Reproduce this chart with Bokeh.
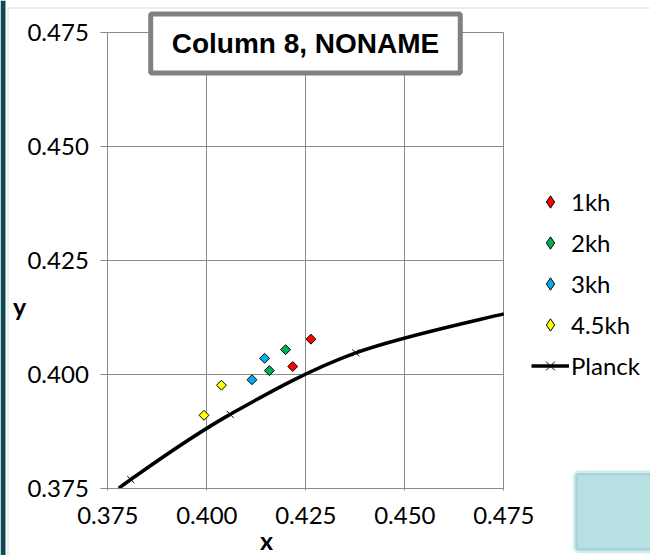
import numpy as np
from bokeh.plotting import figure
from bokeh.models import (Range1d, FixedTicker, NumeralTickFormatter, Legend,
                          LegendItem, Label, BoxAnnotation, LinearAxis)
from bokeh.embed import file_html
from bokeh.resources import INLINE

# ---- data ----
tick_values = [0.375, 0.400, 0.425, 0.450, 0.475]

series_names = ["1kh", "2kh", "3kh", "4.5kh"]
series_colors = ["#FF0000", "#00B050", "#00B0F0", "#FFFF00"]
x_1kh = [0.4263, 0.4217]
y_1kh = [0.4077, 0.4017]
x_2kh = [0.4199, 0.4158]
y_2kh = [0.4054, 0.4008]
x_3kh = [0.4146, 0.4114]
y_3kh = [0.4035, 0.3988]
x_45kh = [0.4037, 0.3993]
y_45kh = [0.3976, 0.3910]

planck_x = [0.3610, 0.3808, 0.4059, 0.4376, 0.4770]
planck_y = [0.3636, 0.3769, 0.3912, 0.4047, 0.4137]

# ---- layout: the plot area sits inside a full-canvas frame ----
W, H = 650, 555
AX_LO, AX_HI = 0.375, 0.475
PX_L, PX_R = 107.3, 503.3      # canvas x of 0.375 / 0.475
PY_T, PY_B = 32.0, 487.7       # canvas y of 0.475 / 0.375
sx = (PX_R - PX_L) / (AX_HI - AX_LO)
sy = (PY_B - PY_T) / (AX_HI - AX_LO)
x_range = Range1d(AX_LO - PX_L / sx, AX_HI + (W - PX_R) / sx)
y_range = Range1d(AX_LO - (H - PY_B) / sy, AX_HI + PY_T / sy)

p = figure(width=W, height=H, output_backend="svg", toolbar_location=None,
           x_range=x_range, y_range=y_range,
           x_axis_type=None, y_axis_type=None, min_border=0)
p.min_border_left = p.min_border_right = 0
p.min_border_top = p.min_border_bottom = 0
p.background_fill_color = "white"
p.border_fill_color = "white"
p.outline_line_color = None

GRAY = "#898989"
FONT = "Lato"

def make_axis(tick_in, tick_out, standoff, labels, level):
    ax = LinearAxis(fixed_location=AX_LO, bounds=(AX_LO, AX_HI),
                    ticker=FixedTicker(ticks=tick_values),
                    formatter=NumeralTickFormatter(format="0.000"),
                    level=level)
    ax.axis_line_color = GRAY
    ax.major_tick_line_color = GRAY
    ax.minor_tick_line_color = None
    ax.major_tick_in = tick_in
    ax.major_tick_out = tick_out
    ax.major_label_standoff = standoff
    ax.major_label_text_font = FONT
    ax.major_label_text_font_size = "24px"
    ax.major_label_text_color = "black"
    if not labels:
        ax.major_label_text_alpha = 0
    return ax

# gridlines: axis ticks running across the plot area (drawn beneath the data)
p.add_layout(make_axis(int(round(PY_B - PY_T)), 0, 17, False, "underlay"), "below")
p.add_layout(make_axis(int(round(PX_R - PX_L)), 0, 12, False, "underlay"), "left")
# visible axes with outward ticks and tick labels
p.add_layout(make_axis(0, 2, 17, True, "guide"), "below")
p.add_layout(make_axis(0, 7, 12, True, "guide"), "left")

# ---- Planck curve: smoothed (spreadsheet-style Bezier) and clipped to the plot area ----
px = np.array(planck_x)
py = np.array(planck_y)
n = len(px)

def bez(c, t):
    u = 1 - t
    return u**3 * c[0] + 3 * u * u * t * c[1] + 3 * u * t * t * c[2] + t**3 * c[3]

def solve(c, target):
    if target <= c[0]:
        return 0.0
    if target >= c[3]:
        return 1.0
    lo, hi = 0.0, 1.0
    for _ in range(60):
        mid = 0.5 * (lo + hi)
        if bez(c, mid) < target:
            lo = mid
        else:
            hi = mid
    return 0.5 * (lo + hi)

def split(P, t):
    a = [(1 - t) * P[k] + t * P[k + 1] for k in range(3)]
    b = [(1 - t) * a[k] + t * a[k + 1] for k in range(2)]
    m = (1 - t) * b[0] + t * b[1]
    return [P[0], a[0], b[0], m], [m, b[1], a[2], P[3]]

segs = {k: [] for k in ("x0", "y0", "x1", "y1", "cx0", "cy0", "cx1", "cy1")}
for k in range(n - 1):
    km, kp = max(k - 1, 0), min(k + 2, n - 1)
    P = [np.array([px[k], py[k]]),
         np.array([px[k] + (px[k + 1] - px[km]) / 6, py[k] + (py[k + 1] - py[km]) / 6]),
         np.array([px[k + 1] - (px[kp] - px[k]) / 6, py[k + 1] - (py[kp] - py[k]) / 6]),
         np.array([px[k + 1], py[k + 1]])]
    cxs = [q[0] for q in P]
    cys = [q[1] for q in P]
    ta = max(solve(cxs, AX_LO), solve(cys, AX_LO))
    tb = min(solve(cxs, AX_HI), solve(cys, AX_HI))
    if ta >= tb:
        continue
    Q = split(P, tb)[0] if tb < 1 else P
    if ta > 0:
        Q = split(Q, ta / tb)[1]
    segs["x0"].append(Q[0][0]); segs["y0"].append(Q[0][1])
    segs["cx0"].append(Q[1][0]); segs["cy0"].append(Q[1][1])
    segs["cx1"].append(Q[2][0]); segs["cy1"].append(Q[2][1])
    segs["x1"].append(Q[3][0]); segs["y1"].append(Q[3][1])

planck_line = p.bezier(line_color="black", line_width=3.5, **segs)
inside = (px >= AX_LO) & (px <= AX_HI) & (py >= AX_LO) & (py <= AX_HI)
planck_pts = p.scatter(px[inside], py[inside], marker="x", size=10,
                       line_color="black", line_width=1)

# ---- measured series ----
items = []
for name, col, xs, ys in zip(series_names, series_colors,
                             [x_1kh, x_2kh, x_3kh, x_45kh],
                             [y_1kh, y_2kh, y_3kh, y_45kh]):
    r = p.scatter(xs, ys, marker="square", angle=np.pi / 4, size=7,
                  fill_color=col, line_color="black", line_width=1)
    # legend swatch: a diamond (the legend does not rotate markers); hidden in the plot
    sw = p.scatter(xs, ys, marker="diamond", fill_color=col,
                   line_color="black", line_width=1, visible=False)
    items.append(LegendItem(label=name, renderers=[sw]))
items.append(LegendItem(label="Planck", renderers=[planck_line, planck_pts]))

legend = Legend(items=items, location=(531, 174), padding=0, margin=0,
                spacing=10, glyph_width=38, glyph_height=31, label_standoff=2,
                border_line_color=None, background_fill_alpha=0,
                label_text_font=FONT, label_text_font_size="24px",
                label_text_color="black", click_policy="none")
p.add_layout(legend)

# ---- chart-area decorations ----
p.add_layout(BoxAnnotation(left=0, right=5, top=0, bottom=H,
                           left_units="canvas", right_units="canvas",
                           top_units="canvas", bottom_units="canvas",
                           fill_color="#0E4A56", fill_alpha=1, line_color=None,
                           level="underlay"))
p.add_layout(BoxAnnotation(left=7.5, right=W + 50, top=7.5, bottom=H + 50,
                           left_units="canvas", right_units="canvas",
                           top_units="canvas", bottom_units="canvas",
                           fill_alpha=0, line_color=GRAY, line_width=1,
                           level="underlay"))
p.add_layout(BoxAnnotation(left=574.8, right=W + 50, top=472.5, bottom=550.2,
                           left_units="canvas", right_units="canvas",
                           top_units="canvas", bottom_units="canvas",
                           fill_color="#B8E0E2", fill_alpha=1,
                           line_color="#70BFC4", line_width=5,
                           border_radius=4))

# ---- title box ----
p.add_layout(Label(x=305, y=43, x_units="canvas", y_units="canvas",
                   text="Column 8, NONAME", text_font="Liberation Sans",
                   text_font_style="bold", text_font_size="28px",
                   text_color="black", text_align="center",
                   text_baseline="middle",
                   background_fill_color="white", border_line_color="#808080",
                   border_line_width=5, padding=(21, 14)))

# ---- axis titles ----
p.add_layout(Label(x=266, y=539, x_units="canvas", y_units="canvas", text="x",
                   text_font=FONT, text_font_style="bold",
                   text_font_size="25px", text_color="black",
                   text_align="center", text_baseline="middle"))
p.add_layout(Label(x=19, y=305, x_units="canvas", y_units="canvas", text="y",
                   text_font=FONT, text_font_style="bold",
                   text_font_size="25px", text_color="black",
                   text_align="center", text_baseline="middle"))

open("out.html", "w").write(file_html(p, INLINE))
